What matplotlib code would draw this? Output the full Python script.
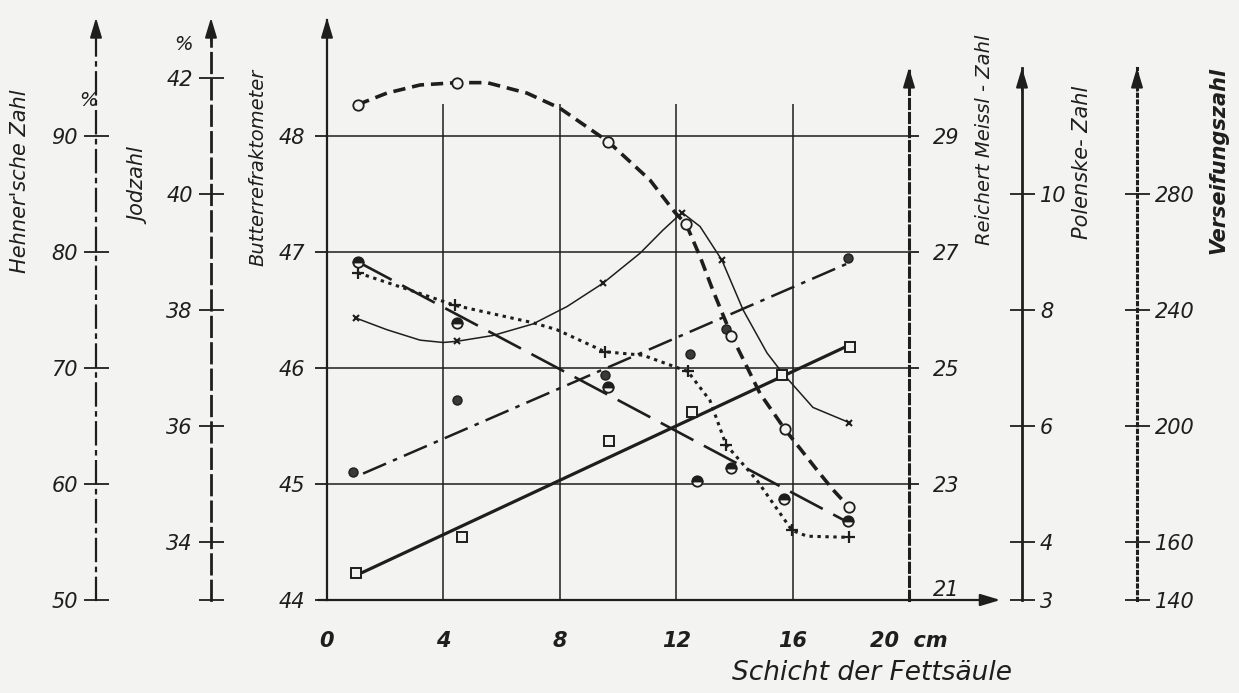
import matplotlib.pyplot as plt

INK = "#1e1e1e"
PAPER = "#f3f3f1"

plt.rcParams["font.family"] = ["DejaVu Sans"]
plt.rcParams["font.style"] = "italic"

# Schicht der Fettsaeule [cm] and the measured values, each in its own unit

# Butterrefraktometer (thin solid curve, x markers)
refr_x = [1.0, 4.46, 9.48, 12.2, 13.57, 17.94]
refr_y = [46.43, 46.23, 46.73, 47.34, 46.93, 45.53]
refr_curve_x = [1.0, 2.06, 3.2, 3.99, 4.46, 5.7, 7.08, 8.25, 9.48, 10.76, 11.55,
                12.2, 12.82, 13.57, 14.3, 15.12, 15.64, 16.7, 17.94]
refr_curve_y = [46.43, 46.33, 46.24, 46.22, 46.23, 46.28, 46.38, 46.53, 46.73, 46.99, 47.19,
                47.34, 47.22, 46.93, 46.5, 46.13, 45.96, 45.66, 45.53]

# Reichert-Meissl-Zahl (heavy dashed curve, open circles)
rm_x = [1.05, 4.46, 9.67, 12.34, 13.9, 15.74, 17.94]
rm_y = [29.54, 29.92, 28.90, 27.48, 25.56, 23.94, 22.60]
rm_curve_x = [1.05, 2.06, 3.2, 4.46, 5.5, 6.87, 8.0, 9.67, 11.1, 11.96, 12.34, 12.82,
              13.26, 13.9, 14.43, 14.88, 15.74, 16.84, 17.39, 17.94]
rm_curve_y = [29.54, 29.74, 29.88, 29.92, 29.92, 29.74, 29.48, 28.90, 28.24, 27.68, 27.48, 26.92,
              26.34, 25.56, 25.02, 24.56, 23.94, 23.24, 22.90, 22.60]

# Verseifungszahl (dotted curve, + markers)
vz_x = [1.07, 4.4, 9.55, 12.4, 13.71, 15.98, 17.94]
vz_y = [252.8, 241.6, 225.6, 218.8, 193.6, 164.0, 161.6]
vz_curve_x = [1.07, 2.75, 4.4, 7.08, 7.9, 9.55, 10.86, 12.4, 13.16, 13.71, 14.78,
              15.98, 16.5, 17.94]
vz_curve_y = [252.8, 247.2, 241.6, 235.6, 233.2, 225.6, 224.4, 218.8, 208.8, 193.6, 181.2,
              164.0, 162.0, 161.6]

# Hehner'sche Zahl (dash-dot line, filled dots)
hz_x = [0.9, 4.47, 9.55, 12.47, 13.71, 17.9]
hz_y = [61.0, 67.2, 69.4, 71.2, 73.4, 79.5]
hz_line_x = [1.24, 17.97]
hz_line_y = [60.9, 79.1]

# Jodzahl (long dashed line, half filled circles)
jz_x = [1.07, 4.47, 9.66, 12.71, 13.88, 15.7, 17.9]
jz_y = [38.82, 37.78, 36.68, 35.06, 35.28, 34.74, 34.36]
jz_line_x = [1.1, 17.9]
jz_line_y = [38.82, 34.34]

# Polenske-Zahl (heavy solid line, squares)
pz_x = [1.0, 4.64, 9.69, 12.54, 15.63, 17.97]
pz_y = [3.46, 4.08, 5.74, 6.24, 6.88, 7.36]
pz_line_x = [1.24, 17.8]
pz_line_y = [3.48, 7.36]

x_ticks = [0, 4, 8, 12, 16, 20]
x_labels = ["0", "4", "8", "12", "16", "20  cm"]


def px(x, y):
    return x / 1239, 1 - y / 693


def arrow_head(ax, xf, yf):
    ax.annotate("", xy=(xf, yf), xytext=(xf, yf - 0.04), xycoords="axes fraction",
                arrowprops=dict(arrowstyle="-|>,head_length=0.6,head_width=0.18",
                                mutation_scale=20, color=INK, lw=1.4,
                                shrinkA=0, shrinkB=0), annotation_clip=False)


def scale_axis(host, side, pos, ylim, ticks, labels, ls, lw, direction, length, pad, top=None):
    ax = host.twinx()
    ax.set_ylim(*ylim)
    for s in ax.spines.values():
        s.set_visible(False)
    sp = ax.spines[side]
    sp.set_visible(True)
    sp.set_position(("axes", pos))
    sp.set_linestyle(ls)
    sp.set_linewidth(lw)
    sp.set_color(INK)
    if top is not None:
        sp.set_bounds(ylim[0], top)
    if side == "left":
        ax.yaxis.tick_left()
    else:
        ax.yaxis.tick_right()
    ax.set_yticks(ticks, labels)
    ax.tick_params(axis="y", direction=direction, length=length, width=1.3,
                   color=INK, labelcolor=INK, labelsize=15, pad=pad)
    return ax


fig = plt.figure(figsize=(12.39, 6.93), dpi=100, facecolor=PAPER)
ax = fig.add_axes([327 / 1239, 93 / 693, 582 / 1239, 580 / 693])
ax.set_facecolor("none")
ax.set_xlim(0, 20)
ax.set_ylim(44, 49)
for s in ax.spines.values():
    s.set_visible(False)
ax.spines["left"].set_visible(True)
ax.spines["left"].set_linewidth(1.6)
ax.spines["left"].set_color(INK)

# grid
ax.hlines([45, 46, 47, 48], 0, 20, color=INK, lw=1.1, zorder=1)
ax.vlines([4, 8, 12, 16], 44, 48.28, color=INK, lw=1.1, zorder=1)

ax.set_xticks(x_ticks, x_labels)
ax.set_yticks([44, 45, 46, 47, 48])
ax.tick_params(axis="x", length=0, pad=22, labelsize=15, labelcolor=INK)
ax.tick_params(axis="y", direction="out", length=9, width=1.3, color=INK,
               labelsize=15, labelcolor=INK, pad=7)
for t in ax.get_xticklabels():
    t.set_fontweight("bold")

# axes on both sides
ax_hz = scale_axis(ax, "left", (96 - 327) / 582, (50, 100), [50, 60, 70, 80, 90],
                   ["50", "60", "70", "80", "90"], (0, (10, 3, 1.5, 3)), 1.6, "inout", 18, 4)
ax_jz = scale_axis(ax, "left", (211 - 327) / 582, (33, 43), [33, 34, 36, 38, 40, 42],
                   ["", "34", "36", "38", "40", "42"], (0, (7, 2.5)), 2.0, "inout", 18, 4)
ax_rm = scale_axis(ax, "right", 1.0, (21, 31), [21, 23, 25, 27, 29],
                   ["21", "23", "25", "27", "29"], (0, (3, 1.6)), 2.2, "out", 7, 10, top=30.17)
ax_pz = scale_axis(ax, "right", (1022 - 327) / 582, (3, 13), [3, 4, 6, 8, 10],
                   ["3", "4", "6", "8", "10"], "-", 2.0, "inout", 18, 4, top=12.17)
ax_vz = scale_axis(ax, "right", (1137 - 327) / 582, (140, 340), [140, 160, 200, 240, 280],
                   ["140", "160", "200", "240", "280"], (0, (0.7, 1.5)), 2.2, "inout", 18, 4,
                   top=323.4)
ax_rm.get_yticklabels()[0].set_va("bottom")

# arrows
for xf in [(96 - 327) / 582, (211 - 327) / 582, 0.0]:
    arrow_head(ax, xf, 1.004)
for xf in [1.0, (1022 - 327) / 582, (1137 - 327) / 582]:
    arrow_head(ax, xf, 0.918)
ax.annotate("", xy=(1.157, 0), xytext=(-0.015, 0), xycoords="axes fraction",
            arrowprops=dict(arrowstyle="-|>,head_length=0.6,head_width=0.18",
                            mutation_scale=20, color=INK, lw=1.6, shrinkA=0, shrinkB=0),
            annotation_clip=False)

# series
ax.plot(refr_curve_x, refr_curve_y, color=INK, lw=1.1, solid_joinstyle="round", zorder=3)
ax.plot(refr_x, refr_y, ls="none", marker="x", ms=5, mew=1.5, color=INK, zorder=4)

ax_rm.plot(rm_curve_x, rm_curve_y, color=INK, lw=2.6, dashes=(3.4, 1.9), zorder=3)
ax_rm.plot(rm_x, rm_y, ls="none", marker="o", ms=7.5, mfc=PAPER, mec=INK, mew=1.3, zorder=4)

ax_vz.plot(vz_curve_x, vz_curve_y, color=INK, lw=2.2, dashes=(1.1, 1.5), zorder=3)
ax_vz.plot(vz_x, vz_y, ls="none", marker="+", ms=9, mew=1.6, color=INK, zorder=4)

ax_hz.plot(hz_line_x, hz_line_y, color=INK, lw=1.8, dashes=(10, 3, 1.8, 3), zorder=3)
ax_hz.plot(hz_x, hz_y, ls="none", marker="o", ms=6.5, color="#3a3a3a", mec=INK, zorder=4)

ax_jz.plot(jz_line_x, jz_line_y, color=INK, lw=1.9, dashes=(14, 4.5), zorder=3)
ax_jz.plot(jz_x, jz_y, ls="none", marker="o", ms=7.5, fillstyle="top", mfc=INK,
           mfcalt=PAPER, mec=INK, mew=1.3, zorder=4)

ax_pz.plot(pz_line_x, pz_line_y, color=INK, lw=2.3, zorder=3)
ax_pz.plot(pz_x, pz_y, ls="none", marker="s", ms=7, mfc=PAPER, mec=INK, mew=1.4, zorder=4)

# axis titles
fig.text(*px(20, 181), "Hehner'sche Zahl", rotation=90, ha="center", va="center",
         fontsize=15, color=INK)
fig.text(*px(88, 101), "%", ha="center", va="center", fontsize=14, color=INK)
fig.text(*px(140, 187), "Jodzahl", rotation=90, ha="center", va="center",
         fontsize=15, color=INK)
fig.text(*px(183, 44), "%", ha="center", va="center", fontsize=14, color=INK)
fig.text(*px(258, 167), "Butterrefraktometer", rotation=90, ha="center", va="center",
         fontsize=14, color=INK)
fig.text(*px(984, 140), "Reichert Meissl - Zahl", rotation=90, ha="center", va="center",
         fontsize=14, color=INK)
fig.text(*px(1082, 162), "Polenske- Zahl", rotation=90, ha="center", va="center",
         fontsize=15, color=INK)
fig.text(*px(1218, 160), "Verseifungszahl", rotation=90, ha="center", va="center",
         fontsize=15, fontweight="bold", color=INK)
fig.text(*px(872, 673), "Schicht der Fettsäule", ha="center", va="center",
         fontsize=19, color=INK)

fig.savefig("out.png", dpi=100, facecolor=PAPER)
